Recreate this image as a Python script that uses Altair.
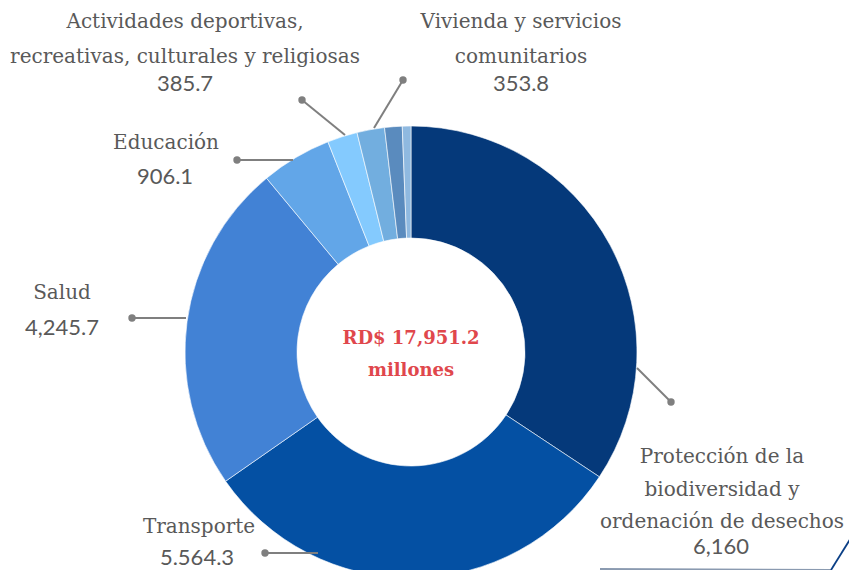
import altair as alt
import pandas as pd

# ---- data ----
categories = [
    "Protección de la biodiversidad y ordenación de desechos",
    "Transporte",
    "Salud",
    "Educación",
    "Actividades deportivas, recreativas, culturales y religiosas",
    "Vivienda y servicios comunitarios",
    "Otros 1",
    "Otros 2",
]
values = [6160.0, 5564.3, 4245.7, 906.1, 385.7, 353.8, 225.0, 110.6]
colors = ["#05397A", "#0450A3", "#4282D5", "#62A6E8", "#84CAFE", "#72AEDF", "#5A8BBE", "#8FB9E0"]

label_names = [
    ["Protección de la", "biodiversidad y", "ordenación de desechos"],
    ["Transporte"],
    ["Salud"],
    ["Educación"],
    ["Actividades deportivas,", "recreativas, culturales y religiosas"],
    ["Vivienda y servicios", "comunitarios"],
]
label_values = ["6,160", "5.564.3", "4,245.7", "906.1", "385.7", "353.8"]
center_lines = ["RD$ 17,951.2", "millones"]

# ---- layout (pixels, page coordinates) ----
CX, CY = 411, 352
R_IN, R_OUT = 114, 226
name_pos = [
    (722, [457, 490, 522]),
    (199, [527]),
    (62, [293]),
    (166, [143]),
    (185, [22, 57]),
    (521, [22, 57]),
]
value_pos = [(721, 547), (197, 558), (62, 328), (165, 177), (185, 84), (521, 84)]
leaders = [  # (dot x, dot y, end x, end y)
    (671, 402, 637, 368),
    (265, 553, 318, 553),
    (132, 318, 186, 318),
    (237, 160, 293, 160),
    (302, 100, 345, 135),
    (403, 80, 374, 128),
]

df = pd.DataFrame({"cat": categories, "val": values, "ord": list(range(len(values)))})

names_rows = []
for (x, ys), lines in zip(name_pos, label_names):
    for y, t in zip(ys, lines):
        names_rows.append({"t": t, "px": x, "py": y})
names_df = pd.DataFrame(names_rows)
vals_df = pd.DataFrame({"t": label_values, "px": [p[0] for p in value_pos], "py": [p[1] for p in value_pos]})
lead_df = pd.DataFrame(leaders, columns=["dx", "dy", "ex", "ey"])
center_df = pd.DataFrame({"t": center_lines, "px": [CX, CX], "py": [CY - 13, CY + 19]})

arc = alt.Chart(df).mark_arc(innerRadius=R_IN, outerRadius=R_OUT, stroke="white", strokeWidth=0.6).encode(
    theta=alt.Theta("val:Q", stack=True),
    order=alt.Order("ord:Q"),
    color=alt.Color("cat:N", scale=alt.Scale(domain=categories, range=colors), legend=None),
    x=alt.value(CX),
    y=alt.value(CY),
)

X = lambda f: alt.X(f, type="quantitative", scale=None, axis=None)
Y = lambda f: alt.Y(f, type="quantitative", scale=None, axis=None)

lines = alt.Chart(lead_df).mark_rule(color="#7F7F7F", strokeWidth=2).encode(
    x=X("dx"), y=Y("dy"), x2="ex:Q", y2="ey:Q"
)
dots = alt.Chart(lead_df).mark_circle(color="#7F7F7F", size=55, opacity=1).encode(x=X("dx"), y=Y("dy"))

names = alt.Chart(names_df).mark_text(
    font="DejaVu Serif", fontSize=20, color="#595959", align="center", baseline="middle"
).encode(x=X("px"), y=Y("py"), text="t:N")

vals = alt.Chart(vals_df).mark_text(
    font="Lato", fontSize=22, color="#595959", align="center", baseline="middle"
).encode(x=X("px"), y=Y("py"), text="t:N")

center = alt.Chart(center_df).mark_text(
    font="DejaVu Serif", fontSize=18, fontWeight="bold", color="#E0474C", align="center", baseline="middle"
).encode(x=X("px"), y=Y("py"), text="t:N")

deco_df = pd.DataFrame({"x": [600, 831], "y": [569, 570], "x2": [831, 857], "y2": [570, 528],
                        "c": ["#8A9AB0", "#0B3F86"]})
deco = alt.Chart(deco_df).mark_rule(strokeWidth=1.8).encode(
    x=X("x"), y=Y("y"), x2="x2:Q", y2="y2:Q", color=alt.Color("c:N", scale=None)
)

chart = alt.layer(arc, lines, dots, names, vals, center, deco).properties(
    width=857, height=578, autosize=alt.AutoSizeParams(type="none"),
    padding={"left": -8, "top": -8, "right": -8, "bottom": -8},
).configure_view(stroke=None)

chart.save("out.html", embed_options={"renderer": "svg", "actions": False})
